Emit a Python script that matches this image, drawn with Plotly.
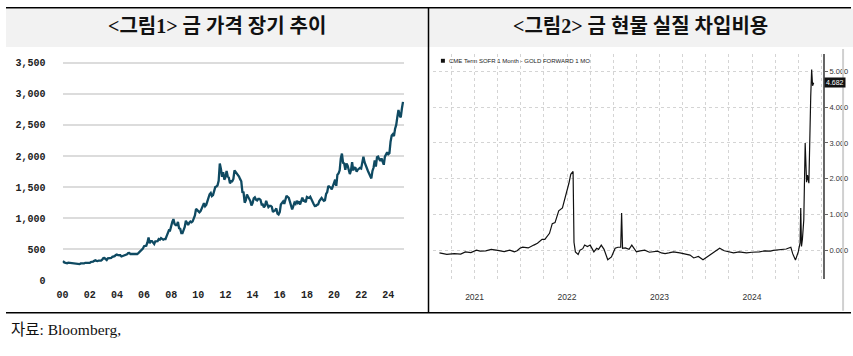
import plotly.graph_objects as go

# ---------------- Data: Figure 1 (gold price, monthly, USD/oz) ----------------
gold_start_year = 2000
gold_prices = [
    284, 300, 286, 280, 275, 285, 282, 274, 273, 270, 266, 272,   # 2000
    266, 262, 263, 261, 272, 270, 268, 273, 283, 283, 276, 276,   # 2001
    282, 296, 294, 303, 314, 322, 314, 310, 319, 317, 319, 333,   # 2002
    357, 359, 340, 328, 355, 356, 351, 360, 379, 378, 389, 407,   # 2003
    414, 405, 406, 404, 384, 392, 398, 400, 406, 420, 439, 442,   # 2004
    424, 423, 434, 429, 422, 431, 424, 438, 456, 469, 476, 510,   # 2005
    549, 555, 557, 610, 690, 596, 633, 632, 598, 586, 627, 629,   # 2006
    631, 665, 655, 679, 667, 655, 665, 665, 712, 754, 806, 803,   # 2007
    889, 940, 985, 909, 888, 889, 939, 839, 829, 760, 760, 816,   # 2008
    858, 960, 924, 890, 928, 946, 934, 949, 996, 1043, 1150, 1134,  # 2009
    1118, 1095, 1113, 1148, 1205, 1240, 1193, 1215, 1271, 1342, 1385, 1405,  # 2010
    1356, 1372, 1424, 1500, 1510, 1529, 1600, 1880, 1790, 1665, 1739, 1620,  # 2011
    1656, 1760, 1673, 1650, 1560, 1596, 1594, 1630, 1770, 1747, 1722, 1684,  # 2012
    1671, 1628, 1593, 1420, 1414, 1250, 1286, 1380, 1349, 1316, 1275, 1205,  # 2013
    1244, 1320, 1336, 1299, 1287, 1310, 1311, 1296, 1220, 1222, 1176, 1200,  # 2014
    1280, 1227, 1179, 1198, 1199, 1181, 1100, 1117, 1125, 1157, 1075, 1060,  # 2015
    1097, 1220, 1246, 1270, 1230, 1300, 1360, 1341, 1326, 1266, 1200, 1140,  # 2016
    1192, 1250, 1231, 1280, 1246, 1270, 1220, 1300, 1330, 1280, 1283, 1255,  # 2017
    1340, 1331, 1325, 1345, 1294, 1265, 1228, 1195, 1198, 1215, 1221, 1275,  # 2018
    1300, 1325, 1300, 1280, 1290, 1390, 1420, 1520, 1500, 1495, 1465, 1515,  # 2019
    1575, 1620, 1520, 1700, 1720, 1770, 1960, 2040, 1890, 1880, 1780, 1880,  # 2020
    1850, 1760, 1710, 1770, 1900, 1770, 1815, 1810, 1750, 1780, 1790, 1810,  # 2021
    1800, 1900, 1990, 1900, 1840, 1810, 1760, 1720, 1660, 1640, 1760, 1815,  # 2022
    1930, 1830, 1980, 1990, 1950, 1920, 1960, 1915, 1860, 1990, 2040, 2060,  # 2023
    2030, 2045, 2230, 2330, 2350, 2320, 2440, 2500, 2630, 2740, 2650, 2620,  # 2024
    2760, 2870,                                                       # 2025
]
gold_x = [gold_start_year + i / 12 for i in range(len(gold_prices))]
gold_yticks = [0, 500, 1000, 1500, 2000, 2500, 3000, 3500]
gold_yticklabels = ["0", "500", "1,000", "1,500", "2,000", "2,500", "3,000", "3,500"]
gold_xticks = list(range(2000, 2025, 2))
gold_xticklabels = ["%02d" % (y % 100) for y in gold_xticks]

# ---------------- Data: Figure 2 (CME Term SOFR 1M - Gold Forward 1M, %) ----------------
borrow_x = [
    2021.12, 2021.20, 2021.28, 2021.35, 2021.40, 2021.46, 2021.52, 2021.56, 2021.62,
    2021.68, 2021.75, 2021.82, 2021.88, 2021.93, 2021.96, 2021.99, 2022.02, 2022.08,
    2022.14, 2022.18, 2022.23, 2022.26, 2022.31, 2022.34, 2022.37, 2022.41, 2022.45,
    2022.48, 2022.52, 2022.54, 2022.565, 2022.575, 2022.59, 2022.62, 2022.64, 2022.67,
    2022.69, 2022.72, 2022.75, 2022.79, 2022.82, 2022.84, 2022.87, 2022.90, 2022.91,
    2022.94, 2022.98, 2023.02, 2023.05, 2023.08, 2023.09, 2023.10, 2023.13, 2023.17,
    2023.20, 2023.25, 2023.29, 2023.34, 2023.39, 2023.44, 2023.48, 2023.52, 2023.56,
    2023.60, 2023.65, 2023.72, 2023.78, 2023.83, 2023.87, 2023.92, 2023.97, 2024.00,
    2024.04, 2024.09, 2024.15, 2024.20, 2024.25, 2024.30, 2024.36, 2024.44, 2024.50,
    2024.58, 2024.64, 2024.70, 2024.73, 2024.80, 2024.87, 2024.92, 2024.94, 2024.97,
    2025.00, 2025.02, 2025.027, 2025.035, 2025.045, 2025.06, 2025.075, 2025.09, 2025.10,
    2025.115, 2025.125, 2025.135, 2025.145, 2025.155, 2025.167,
]
borrow_y = [
    -0.08, -0.12, -0.10, -0.11, -0.05, -0.07, 0.00, -0.03, -0.02,
    0.02, -0.01, -0.04, 0.00, -0.05, -0.02, 0.05, 0.08, 0.06,
    0.14, 0.19, 0.30, 0.30, 0.47, 0.74, 0.77, 1.10, 1.18,
    1.46, 1.87, 2.12, 2.20, 0.22, -0.05, -0.12, 0.00, 0.04,
    0.14, 0.10, 0.14, -0.05, 0.05, 0.02, 0.14, 0.02, -0.05,
    -0.27, -0.19, 0.05, 0.08, 0.08, 1.04, 0.05, 0.06, 0.02,
    0.14, -0.05, -0.02, 0.00, -0.06, -0.05, -0.03, -0.08, -0.10,
    -0.08, -0.05, -0.08, -0.12, -0.14, -0.22, -0.18, -0.27, -0.22,
    -0.14, -0.05, 0.05, -0.02, -0.05, -0.08, -0.05, -0.08, -0.06,
    -0.05, -0.02, -0.03, -0.01, 0.02, 0.03, 0.08, -0.10, -0.28,
    -0.05, 0.20, 1.18, 0.10, 0.30, 0.85, 3.00, 1.90, 2.10,
    1.87, 3.60, 4.30, 5.05, 4.60, 4.682,
]
borrow_last = 4.682
borrow_yticks = [0, 1, 2, 3, 4, 5]
borrow_xgrid = [2021 + q / 4 for q in range(0, 18)]
borrow_xlabels = {2021.5: "2021", 2022.5: "2022", 2023.5: "2023", 2024.5: "2024"}
borrow_legend = "CME Term SOFR 1 Month - GOLD FORWARD 1 MO"

# ---------------- Layout helpers ----------------
W, H = 853, 356
def px(x):
    return x / W
def py(y):
    return 1 - y / H

fig = go.Figure()

fig.add_trace(go.Scatter(
    x=gold_x, y=gold_prices, mode="lines",
    line=dict(color="#0f4a62", width=2.3),
    xaxis="x", yaxis="y", showlegend=False, hoverinfo="skip",
))

fig.add_trace(go.Scatter(
    x=borrow_x, y=borrow_y, mode="lines",
    line=dict(color="#111111", width=1.2),
    xaxis="x2", yaxis="y2", showlegend=False, hoverinfo="skip",
))

tick_font = dict(family="Liberation Mono, DejaVu Sans Mono, monospace", size=10,
                 color="#222222", weight="bold")
small_font = dict(family="Liberation Sans, Arial, sans-serif", size=7.5, color="#333333")
xlab_font = dict(family="Liberation Sans, Arial, sans-serif", size=8.5, color="#333333")

ticktext2 = [borrow_xlabels.get(round(v, 2), "") for v in borrow_xgrid]

fig.update_layout(
    width=W, height=H,
    margin=dict(l=0, r=0, t=0, b=0),
    paper_bgcolor="white", plot_bgcolor="white",
    xaxis=dict(
        domain=[px(57), px(401)], range=[2000, 2000 + 344 / 13.667],
        tickvals=gold_xticks, ticktext=gold_xticklabels,
        showgrid=False, zeroline=False, showline=False, ticks="",
        tickfont=tick_font, ticklabelstandoff=7, anchor="y",
    ),
    yaxis=dict(
        domain=[py(286), py(60)], range=[0, 3500 * (286 - 60) / (286 - 64)],
        tickvals=gold_yticks, ticktext=gold_yticklabels,
        showgrid=True, gridcolor="#dcdcdc", gridwidth=1.6,
        zeroline=False, showline=False, ticks="",
        tickfont=tick_font, ticklabelstandoff=16, anchor="x",
    ),
    xaxis2=dict(
        domain=[px(430), px(823)], range=[2021.05, 2025.27],
        tickvals=borrow_xgrid, ticktext=ticktext2,
        showgrid=True, gridcolor="#d4d4d4", gridwidth=1, griddash="dot",
        zeroline=False, showline=False, ticks="",
        tickfont=xlab_font, ticklabelstandoff=11, anchor="y2",
    ),
    yaxis2=dict(
        domain=[py(285), py(55)], range=[-0.82, 5.49],
        tickvals=borrow_yticks, tickformat=".3f", side="right",
        showgrid=True, gridcolor="#d4d4d4", gridwidth=1, griddash="dot",
        zeroline=False, showline=True, linecolor="#666666", linewidth=1.5,
        ticks="outside", ticklen=3, tickcolor="#666666",
        tickfont=small_font, anchor="x2",
    ),
)

shapes = []
# header background
shapes.append(dict(type="rect", xref="paper", yref="paper",
                   x0=0, x1=1, y0=py(48), y1=py(9),
                   fillcolor="#f2f2f2", line=dict(width=0), layer="below"))
# borders
shapes.append(dict(type="line", xref="paper", yref="paper", x0=0, x1=px(851),
                   y0=py(8), y1=py(8), line=dict(color="black", width=1.5)))
shapes.append(dict(type="line", xref="paper", yref="paper", x0=0, x1=px(851),
                   y0=py(319), y1=py(319), line=dict(color="black", width=1.5)))
shapes.append(dict(type="line", xref="paper", yref="paper", x0=px(425.5), x1=px(425.5),
                   y0=py(8), y1=py(319), line=dict(color="black", width=1.5)))
# bloomberg image right edge
shapes.append(dict(type="line", xref="paper", yref="paper", x0=px(843), x1=px(843),
                   y0=py(50), y1=py(317), line=dict(color="#d0d0d0", width=2)))
# legend square
shapes.append(dict(type="rect", xref="paper", yref="paper",
                   x0=px(438), x1=px(442), y0=py(64), y1=py(60),
                   fillcolor="#111111", line=dict(width=0)))
fig.update_layout(shapes=shapes)

header_font = dict(family="Liberation Serif, Noto Sans CJK KR, serif", size=20,
                   color="#111111", weight="bold")
annotations = [
    dict(text="<그림1> 금 가격 장기 추이", x=px(212), y=py(27), xref="paper", yref="paper",
         showarrow=False, font=header_font, xanchor="center", yanchor="middle"),
    dict(text="<그림2> 금 현물 실질 차입비용", x=px(639), y=py(27), xref="paper", yref="paper",
         showarrow=False, font=header_font, xanchor="center", yanchor="middle"),
    dict(text="자료: Bloomberg,", x=px(3), y=py(336), xref="paper", yref="paper",
         showarrow=False, xanchor="left", yanchor="middle",
         font=dict(family="Liberation Serif, Noto Sans CJK KR, serif", size=15.5, color="#111111")),
    dict(text=borrow_legend, x=px(444), y=py(62), xref="paper", yref="paper",
         showarrow=False, xanchor="left", yanchor="middle",
         font=dict(family="Liberation Sans Narrow, Liberation Sans, sans-serif", size=6, color="#222222")),
    dict(text="%.3f" % borrow_last, x=px(824), y=borrow_last, xref="paper", yref="y2",
         showarrow=False, xanchor="left", yanchor="middle", bgcolor="#111111",
         borderpad=1, font=dict(family="Liberation Sans, sans-serif", size=7, color="white")),
]
fig.update_layout(annotations=annotations)

post = ("document.documentElement.style.margin='0';"
        "document.documentElement.style.overflow='hidden';"
        "document.body.style.margin='0';"
        "document.body.style.overflow='hidden';")
fig.write_html("out.html", config={"displayModeBar": False}, post_script=post)
